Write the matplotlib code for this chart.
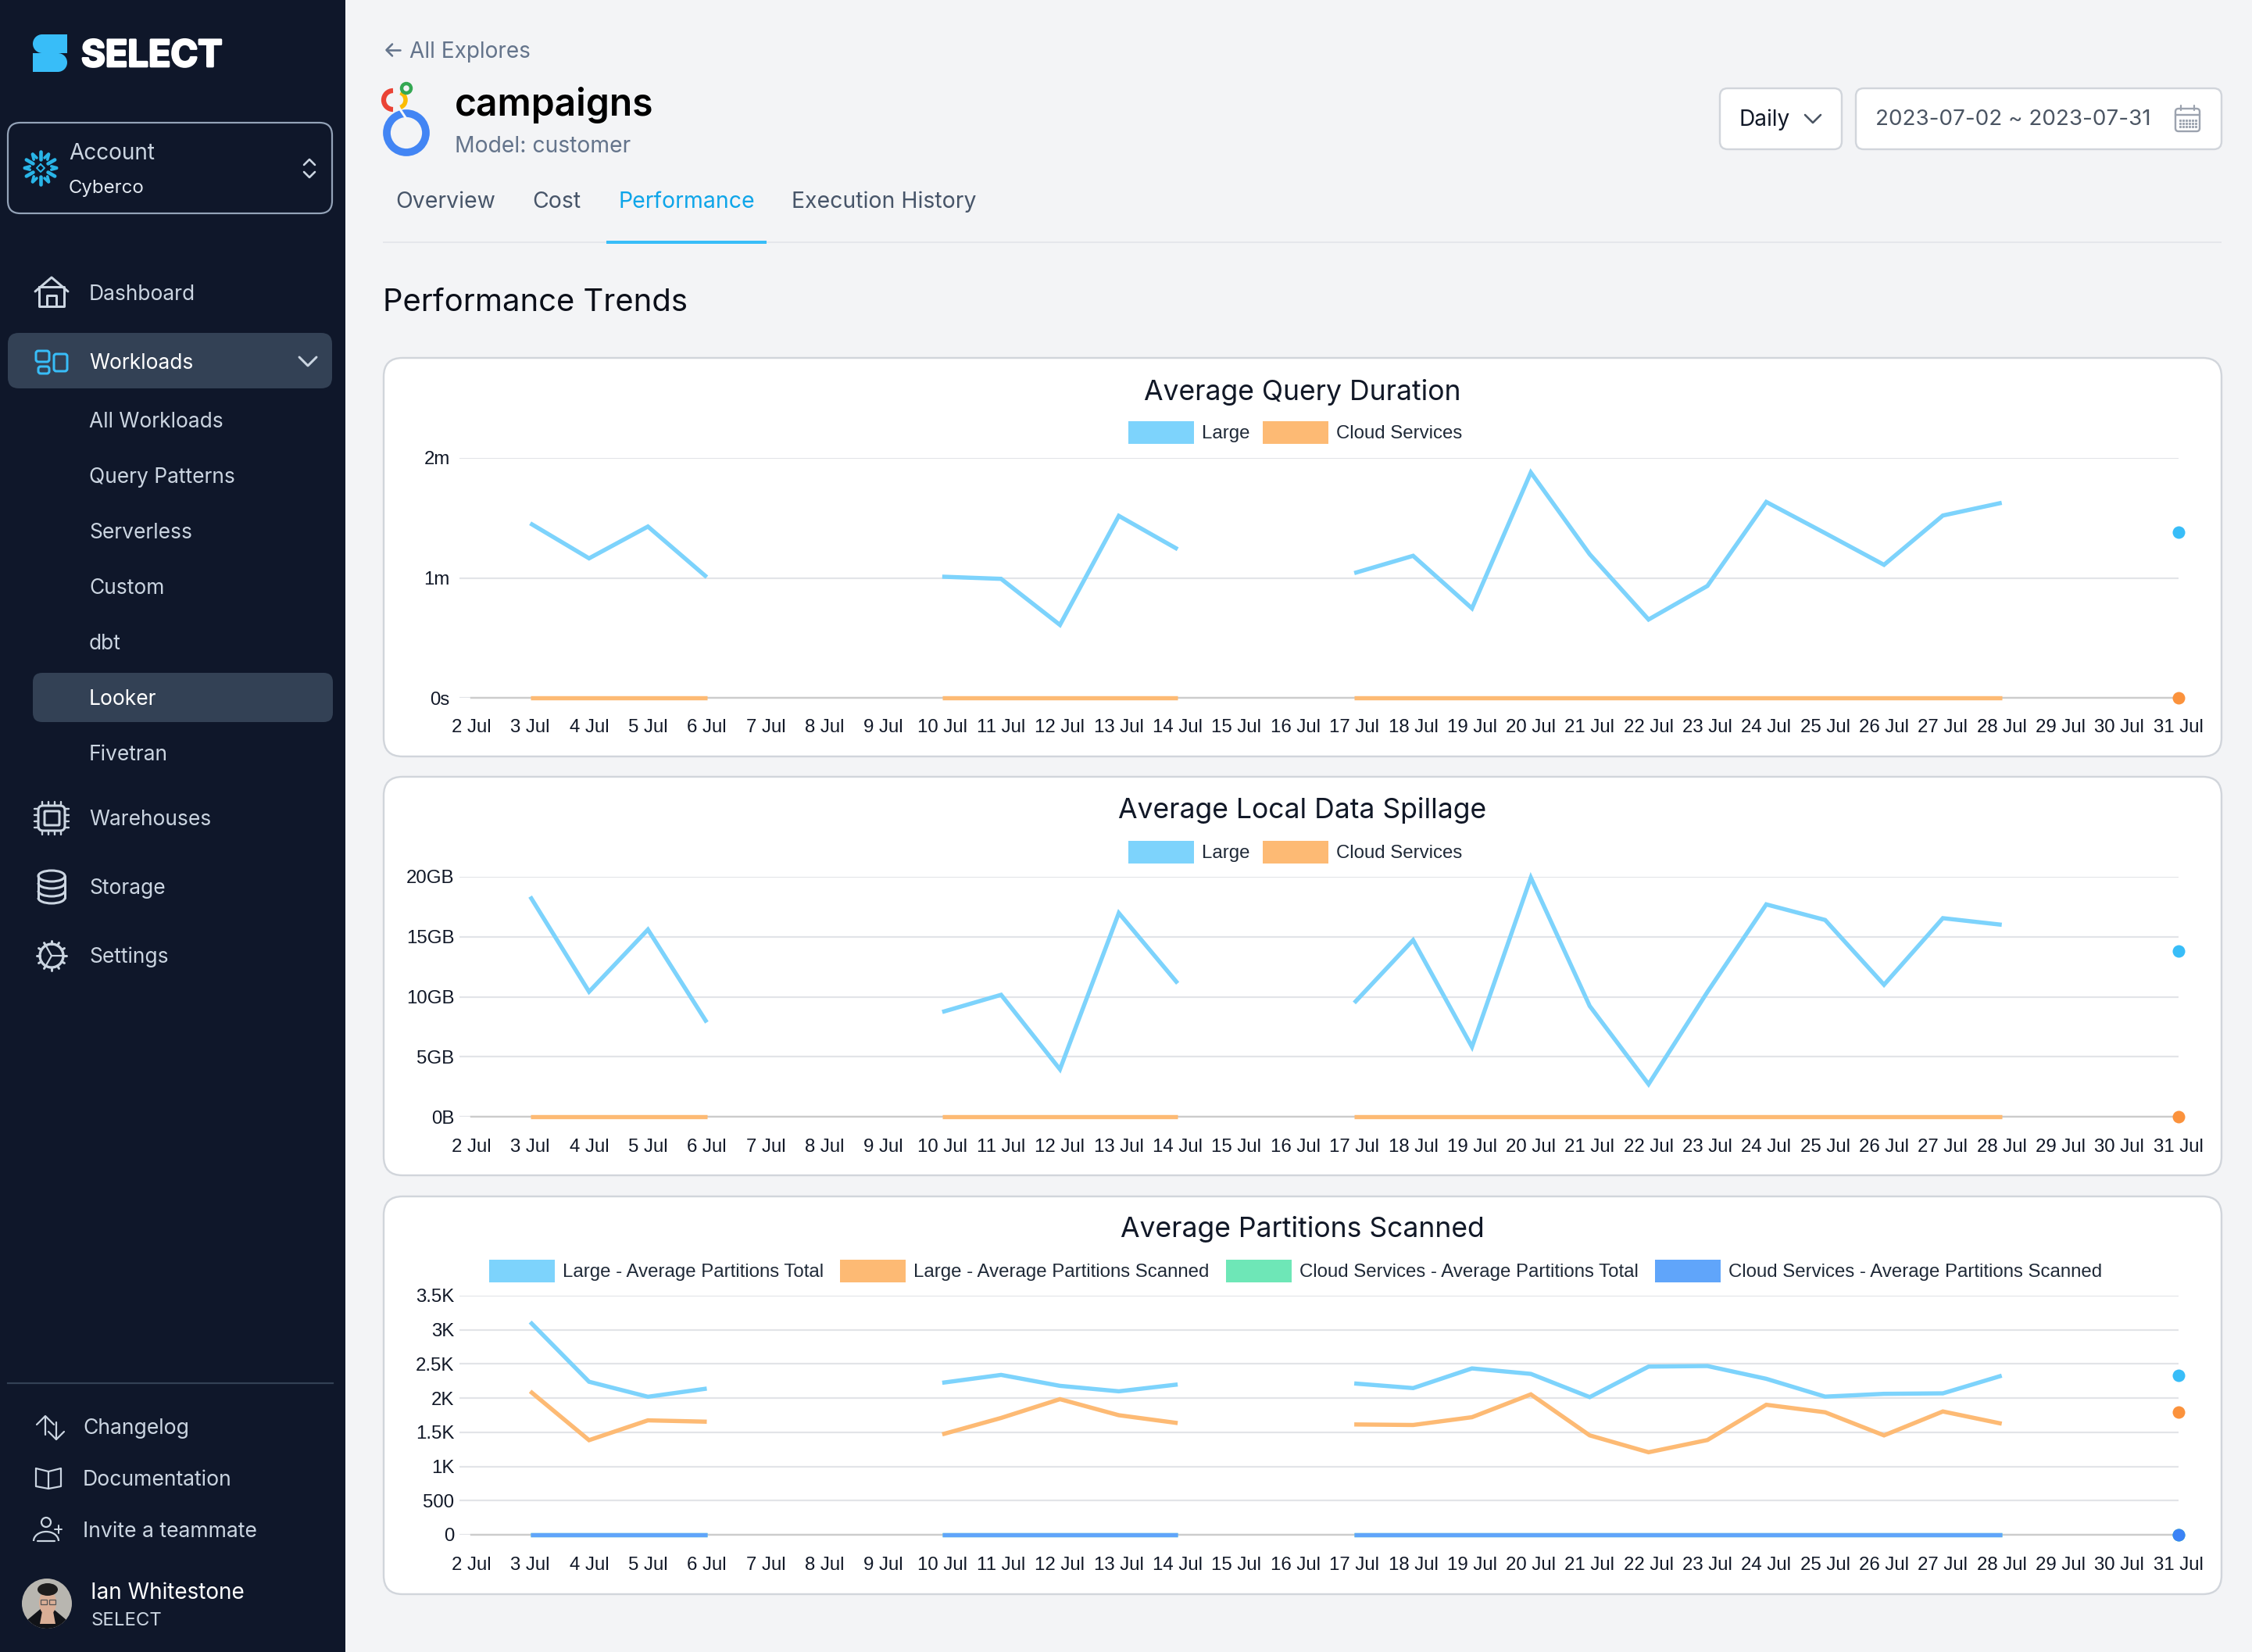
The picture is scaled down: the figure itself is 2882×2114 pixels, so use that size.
import numpy as np
import matplotlib
matplotlib.use("Agg")
import matplotlib.pyplot as plt
from matplotlib.patches import FancyBboxPatch, Circle, Rectangle, Patch, Arc, Polygon, Wedge, Ellipse
import matplotlib.patheffects as pe

W, H = 2882, 2114
N = None
days = [f"{d} Jul" for d in range(2, 32)]

# ---- data (index 0 = 2 Jul ... 29 = 31 Jul)
duration_large = [N,1.455,1.163,1.428,1.006,N,N,N,1.01,0.992,0.608,1.517,1.239,N,N,1.04,1.184,0.746,1.879,1.197,0.653,0.933,1.633,1.373,1.109,1.52,1.626,N,N,1.384]
duration_cloud = [N,0,0,0,0,N,N,N,0,0,0,0,0,N,N,0,0,0,0,0,0,0,0,0,0,0,0,N,N,0]
spill_large = [N,18.35,10.42,15.6,7.86,N,N,N,8.73,10.16,3.95,16.98,11.12,N,N,9.49,14.72,5.82,19.93,9.23,2.71,10.4,17.7,16.4,11.0,16.55,16.0,N,N,13.83]
spill_cloud = [N,0,0,0,0,N,N,N,0,0,0,0,0,N,N,0,0,0,0,0,0,0,0,0,0,0,0,N,N,0]
part_large_total = [N,3114,2240,2020,2140,N,N,N,2225,2340,2180,2100,2200,N,N,2215,2147,2435,2355,2015,2462,2470,2283,2022,2063,2070,2329,N,N,2329]
part_large_scanned = [N,2100,1385,1675,1655,N,N,N,1470,1710,1985,1750,1635,N,N,1615,1607,1721,2055,1455,1208,1387,1903,1793,1455,1805,1626,N,N,1797]
part_cloud_total = [N,0,0,0,0,N,N,N,0,0,0,0,0,N,N,0,0,0,0,0,0,0,0,0,0,0,0,N,N,0]
part_cloud_scanned = [N,0,0,0,0,N,N,N,0,0,0,0,0,N,N,0,0,0,0,0,0,0,0,0,0,0,0,N,N,0]

duration_ticks, duration_labels = [0,1,2], ["0s","1m","2m"]
spill_ticks, spill_labels = [0,5,10,15,20], ["0B","5GB","10GB","15GB","20GB"]
part_ticks, part_labels = [0,500,1000,1500,2000,2500,3000,3500], ["0","500","1K","1.5K","2K","2.5K","3K","3.5K"]

SKY, ORANGE, GREEN, BLUE = "#7DD3FC", "#FDBA74", "#6EE7B7", "#60A5FA"
DOT = {SKY: "#38BDF8", ORANGE: "#FB923C", GREEN: "#34D399", BLUE: "#3B82F6"}

UI = "Inter"
CH = "Liberation Sans"
def fs(px): return px * 0.72

fig = plt.figure(figsize=(W/100, H/100), dpi=100, facecolor="#F3F4F6")
bg = fig.add_axes([0, 0, 1, 1])
bg.set_xlim(0, W); bg.set_ylim(H, 0); bg.axis("off")

def T(x, y, s, px, c, ha="left", va="center_baseline", w="normal", fam=UI, bold=0):
    t = bg.text(x, y, s, fontsize=fs(px), color=c, ha=ha, va=va, fontweight=w, family=fam)
    if bold:
        t.set_path_effects([pe.withStroke(linewidth=bold, foreground=c)])
    return t
def RR(x0, y0, x1, y1, r, fc, ec="none", lw=0, z=1):
    bg.add_patch(FancyBboxPatch((x0, y0), x1-x0, y1-y0, boxstyle=f"round,pad=0,rounding_size={r}",
                                fc=fc, ec=ec, lw=lw*0.72, zorder=z))
def L(xs, ys, c, lw=3, z=3, **k):
    bg.plot(xs, ys, color=c, lw=lw*0.72, zorder=z, solid_capstyle=k.pop("cap", "round"), solid_joinstyle="round", **k)

# ---- sidebar
bg.add_patch(Rectangle((0, 0), 442, H, fc="#0F172A", ec="none", zorder=0))
# logo: two D shapes forming an S
LOGO = "#38BDF8"
bg.add_patch(Circle((54, 56), 12, fc=LOGO, ec="none", zorder=2))
bg.add_patch(Rectangle((54, 44), 32, 24, fc=LOGO, ec="none", zorder=2))
bg.add_patch(Circle((74, 80), 12, fc=LOGO, ec="none", zorder=2))
bg.add_patch(Rectangle((42, 68), 32, 24, fc=LOGO, ec="none", zorder=2))
T(104, 68, "SELECT", 47, "white", w="bold", bold=2)

# account box
RR(10, 157, 425, 273, 16, "none", "#94A3B8", 2.2, z=2)
FL = "#29B5E8"
for a in range(6):
    th = np.pi/2 + a*np.pi/3
    ux, uy = np.cos(th), np.sin(th)
    vx, vy = -uy, ux
    L([52+11*ux, 52+21*ux], [215+11*uy, 215+21*uy], FL, 4.6)
    for sgn in (-1, 1):
        L([52+13*ux+sgn*5*vx, 52+18*ux+sgn*10*vx], [215+13*uy+sgn*5*vy, 215+18*uy+sgn*10*vy], FL, 3.6)
L([52,57,52,47,52],[210,215,220,215,210],FL,2)
T(88, 194, "Account", 28, "#CBD5E1")
T(88, 239, "Cyberco", 24, "#E2E8F0")
L([389,396,403],[211,204,211],"#CBD5E1",2.6)
L([389,396,403],[220,227,220],"#CBD5E1",2.6)

NAV = 26.4
nav_main = [("Dashboard",374),("Warehouses",1046),("Storage",1134),("Settings",1222)]
for s, y in nav_main:
    T(114, y, s, NAV, "#CBD5E1")
RR(10, 426, 425, 497, 14, "#334155")
T(114, 462, "Workloads", NAV, "white")
L([383,394,405],[457,468,457],"#CBD5E1",3)
nav_sub = [("All Workloads",537),("Query Patterns",608),("Serverless",679),("Custom",750),("dbt",821),("Fivetran",963)]
for s, y in nav_sub:
    T(114, y, s, NAV, "#CBD5E1")
RR(42, 861, 426, 924, 12, "#334155")
T(114, 892, "Looker", NAV, "white")

# nav icons
IC = "#CBD5E1"
L([45,66,87],[373,355,373],IC,3)
L([50,50,82,82,50],[367,392,392,367,367],IC,3)
L([60,60,72,72],[392,378,378,392],IC,3)
for x0,y0,x1,y1 in [(46,449,63,463),(49,469,63,478),(69,453,86,475)]:
    RR(x0,y0,x1,y1,3,"none","#38BDF8",3,z=3)
RR(49,1031,83,1063,6,"none",IC,3,z=3)
RR(57,1038,76,1056,1,"none",IC,3,z=3)
for v in np.arange(0,4):
    L([54+8*v]*2,[1026,1031],IC,2.4); L([54+8*v]*2,[1063,1068],IC,2.4)
    L([44,49],[1035+8*v]*2,IC,2.4); L([83,88],[1035+8*v]*2,IC,2.4)
for yy in (1130,1140,1149):
    bg.add_patch(Arc((66,yy),34,14,theta1=0,theta2=180,ec=IC,lw=2.2,zorder=3))
bg.add_patch(Ellipse((66,1121),34,14,fc="none",ec=IC,lw=2.2,zorder=3))
L([49,49],[1121,1149],IC,3); L([83,83],[1121,1149],IC,3)
bg.add_patch(Circle((66,1223),15,fc="none",ec=IC,lw=2.4,zorder=3))
for a in np.arange(0,2*np.pi,np.pi/6):
    L([66+15*np.cos(a),66+19*np.cos(a)],[1223+15*np.sin(a),1223+19*np.sin(a)],IC,3)
L([58,66,82],[1209,1223,1223],IC,2.2); L([58,66],[1237,1223],IC,2.2)

bg.plot([10,426],[1770,1770],color="#334155",lw=1.6,zorder=2)
for s,y in [("Changelog",1825),("Documentation",1891),("Invite a teammate",1957)]:
    T(106,y,s,26.6,"#CBD5E1")
L([58,58],[1813,1836],IC,2.2); L([47,58,69],[1823,1812,1823],IC,2.2)
L([72,72],[1820,1842],IC,2.2); L([62,72,82],[1832,1842,1832],IC,2.2)
L([46,46,62,78,78,62,46],[1879,1902,1905,1902,1879,1883,1879],IC,2.2); L([62,62],[1883,1905],IC,2.2)
bg.add_patch(Circle((59,1948),6,fc="none",ec=IC,lw=1.6,zorder=3))
bg.add_patch(Arc((59,1972),32,24,theta1=180,theta2=360,ec=IC,lw=1.6,zorder=3))
L([48,70],[1972,1972],IC,2.2)
L([70,79],[1957,1957],IC,2); L([74.5,74.5],[1952,1962],IC,2)

# avatar
bg.add_patch(Circle((60,2052),32,fc="#B8B6B0",ec="none",zorder=2))
bg.add_patch(Wedge((60,2052),32,40,140,fc="#111318",ec="none",zorder=3))
bg.add_patch(Ellipse((61,2051),22,32,fc="#D9AE96",ec="none",zorder=4))
bg.add_patch(Polygon([(54,2062),(68,2062),(71,2078),(51,2078)],fc="#D9AE96",ec="none",zorder=3.5))
bg.add_patch(Ellipse((61,2034),26,16,fc="#1D1C1C",ec="none",zorder=5))
bg.add_patch(Rectangle((52,2047),8,6,fc="none",ec="#555555",lw=0.9,zorder=6))
bg.add_patch(Rectangle((63,2047),8,6,fc="none",ec="#555555",lw=0.9,zorder=6))

T(116,2036,"Ian Whitestone",27.9,"white")
T(116,2072,"SELECT",24,"#CBD5E1")

# ---- header
L([495,512],[64,64],"#64748B",2.6); L([502,494.5,502],[56.5,64,71.5],"#64748B",2.6)
T(524,63.5,"All Explores",28,"#64748B")
bg.add_patch(Circle((520,170),25,fc="none",ec="#4285F4",lw=7,zorder=3))
L([512,520],[140,152],"#F8F9FA",3,z=4)
bg.add_patch(Arc((503,128),24,24,theta1=90,theta2=270,ec="#EA4335",lw=4.5,zorder=3))
bg.add_patch(Arc((509,128),20,20,theta1=-70,theta2=70,ec="#FBBC04",lw=4,zorder=3))
bg.add_patch(Circle((520,113),6,fc="none",ec="#34A853",lw=3.2,zorder=3))
T(582,129,"campaigns",48,"black",w="semibold")
T(582,184.5,"Model: customer",28.3,"#64748B")
for s,x,c in [("Overview",506,"#475569"),("Cost",681,"#475569"),("Performance",792,"#0EA5E9"),("Execution History",1013,"#475569")]:
    T(x,255,s,28.4,c)
bg.add_patch(Rectangle((490,309),2353,2,fc="#E5E7EB",ec="none",zorder=1))
bg.add_patch(Rectangle((776,308),205,3.5,fc="#38BDF8",ec="none",zorder=2))
T(490,383,"Performance Trends",40,"#0B0F19")

RR(2201,113,2357,191,10,"white","#D1D5DB",2.4)
T(2225,150.5,"Daily",28,"#111827")
L([2310,2320,2330],[147,157,147],"#4B5563",2.6)
RR(2375,113,2843,191,10,"white","#D1D5DB",2.4)
T(2400,150.5,"2023-07-02 ~ 2023-07-31",27.8,"#4B5563")
RR(2784,139,2815,168,4,"none","#9CA3AF",2.4,z=3)
L([2784,2815],[147,147],"#9CA3AF",2.4); L([2791,2791],[135,141],"#9CA3AF",2.2); L([2808,2808],[135,141],"#9CA3AF",2.2)
for yy in (154,158,162):
    bg.plot(np.arange(2790,2811,4),[yy]*6,ls="none",marker="s",ms=1.2,color="#9CA3AF",zorder=3)

# ---- chart cards
cards = [(458,968),(994,1504),(1531,2040)]
for y0,y1 in cards:
    RR(491,y0,2843,y1,24,"white","#D1D5DB",2.4)

X_FIRST, X_LAST, X_GRID = 603.2, 2787.7, 588.0
step = (X_LAST-X_FIRST)/29
x = np.arange(30)

def chart(ytop, ybot, ymax, ticks, labels, pad, xpad, series, names, title, title_y, leg_y, leg_x, colsp):
    ax = fig.add_axes([X_GRID/W, 1-ybot/H, (X_LAST-X_GRID)/W, (ybot-ytop)/H])
    ax.patch.set_alpha(0)
    ax.set_xlim((X_GRID-X_FIRST)/step, 29)
    ax.set_ylim(0, ymax)
    for s in ax.spines.values(): s.set_visible(False)
    ax.set_yticks(ticks); ax.set_yticklabels(labels)
    ax.set_xticks(x); ax.set_xticklabels(days)
    ax.tick_params(axis="y", length=0, pad=pad, labelsize=fs(24), labelcolor="#111827")
    ax.tick_params(axis="x", length=0, pad=xpad, labelsize=fs(24), labelcolor="#111827")
    for t in ax.get_xticklabels()+ax.get_yticklabels(): t.set_family(CH)
    ax.grid(axis="y", color="#E2E4E8", lw=2.2*0.72, zorder=0)
    ax.set_axisbelow(True)
    ax.plot([0,29],[0,0],color="#CCCCCC",lw=2.4*0.72,zorder=1,clip_on=False)
    handles = []
    for vals, col in series:
        y = np.array([np.nan if v is None else v for v in vals], float)
        ax.plot(x, y, color=col, lw=5.4*0.72, solid_capstyle="butt", solid_joinstyle="miter", clip_on=False, zorder=3)
        ax.plot(x[-1], y[-1], "o", color=DOT[col], ms=16*0.72, mew=0, clip_on=False, zorder=4)
        handles.append(Patch(fc=col, ec="none"))
    T(1667, title_y, title, 35.6, "#111827", ha="center")
    fig.legend(handles, names, loc="center", bbox_to_anchor=(leg_x/W, 1-leg_y/H), ncol=len(names),
               frameon=False, prop={"family":CH,"size":fs(24)}, handlelength=84/24, handleheight=1.42,
               handletextpad=10/24, columnspacing=colsp/24, borderpad=0, labelcolor="#1F2937")
    return ax

chart(586, 893, 2, duration_ticks, duration_labels, 8.8, 19.7,
      [(duration_large,SKY),(duration_cloud,ORANGE)], ["Large","Cloud Services"],
      "Average Query Duration", 498.5, 553.5, 1657.5, 17)
chart(1122, 1429, 20, spill_ticks, spill_labels, 4.6, 20.0,
      [(spill_large,SKY),(spill_cloud,ORANGE)], ["Large","Cloud Services"],
      "Average Local Data Spillage", 1033.5, 1090.5, 1657.5, 17)
chart(1658, 1964, 3500, part_ticks, part_labels, 4.6, 20.0,
      [(part_large_total,SKY),(part_large_scanned,ORANGE),(part_cloud_total,GREEN),(part_cloud_scanned,BLUE)],
      ["Large - Average Partitions Total","Large - Average Partitions Scanned","Cloud Services - Average Partitions Total","Cloud Services - Average Partitions Scanned"],
      "Average Partitions Scanned", 1569.5, 1626.5, 1658, 21.5)

fig.savefig("out.png", dpi=100, facecolor=fig.get_facecolor())
